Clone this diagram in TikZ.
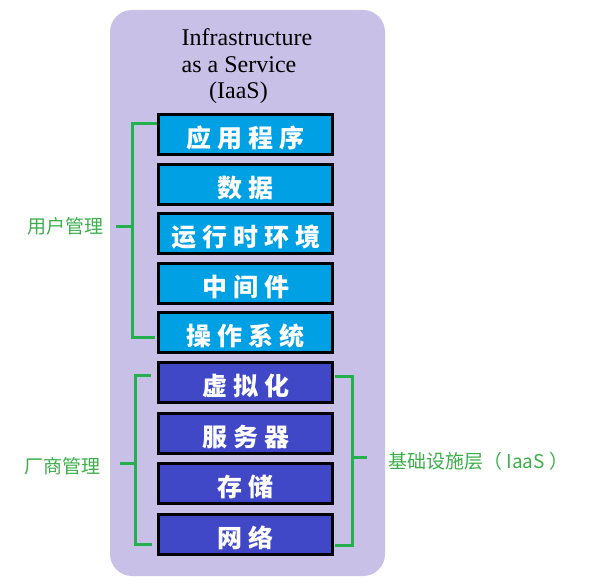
\documentclass[tikz,border=0pt]{standalone}
\usepackage{fontspec}
\setmainfont{Liberation Serif}
\newfontfamily\cjk{Noto Sans CJK SC}
\definecolor{panel}{RGB}{200,192,230}
\definecolor{upbox}{RGB}{0,160,228}
\definecolor{lowbox}{RGB}{64,72,200}
\definecolor{brkgreen}{RGB}{34,177,76}
\definecolor{lblgreen}{RGB}{60,175,75}
\newcommand\gp{\hspace{6pt}}
\tikzset{
  layer/.style={draw=black, line width=3pt, minimum width=174pt, minimum height=40pt,
    inner sep=0pt, text height=26pt, text depth=0pt, text=white,
    font=\cjk\bfseries\fontsize{25pt}{27pt}\selectfont},
  uplayer/.style={layer, fill=upbox},
  lowlayer/.style={layer, fill=lowbox},
  brk/.style={draw=brkgreen, line width=3pt},
  lbl/.style={text=lblgreen, inner sep=0pt, font=\cjk\fontsize{19pt}{21pt}\selectfont},
  ttl/.style={inner sep=0pt, anchor=base west, font=\fontsize{24pt}{27pt}\selectfont}
}
\begin{document}
\begin{tikzpicture}[x=1pt,y=-1pt]
\useasboundingbox (0,0) rectangle (589,586);
\fill[white] (0,0) rectangle (589,586);
\fill[panel, rounded corners=22pt] (110,10) rectangle (385,576);
\node[ttl] (t1) at (181.5,45.5) {Infrastructure};
\node[ttl] (t2) at (181.5,72.5) {as a Service};
\node[ttl] (t3) at (209,99) {(IaaS)};
\node[uplayer] (b1) at (245.5,134.5) {应\gp 用\gp 程\gp 序};
\node[uplayer] (b2) at (245.5,184.5) {数\gp 据};
\node[uplayer] (b3) at (245.5,233.5) {运\gp 行\gp 时\gp 环\gp 境};
\node[uplayer] (b4) at (245.5,283.5) {中\gp 间\gp 件};
\node[uplayer] (b5) at (245.5,332.5) {操\gp 作\gp 系\gp 统};
\node[lowlayer] (b6) at (245.5,382.5) {虚\gp 拟\gp 化};
\node[lowlayer] (b7) at (245.5,433.5) {服\gp 务\gp 器};
\node[lowlayer] (b8) at (245.5,483.5) {存\gp 储};
\node[lowlayer] (b9) at (245.5,534.5) {网\gp 络};
\node[lbl, anchor=east] (userm) at (104,226) {用户管理};
\node[lbl, anchor=east] (vendm) at (101,466) {厂商管理};
\node[lbl, anchor=west] (iaas) at (388,461) {基础设施层（ IaaS ）};
% upper left bracket
\coordinate (ua) at (157,123);
\coordinate (ub) at (132,123);
\coordinate (uc) at (132,337);
\coordinate (ud) at (155,337);
\coordinate (um) at (132,226);
\coordinate (ut) at (116,226);
\draw[brk] (ua) -- (ub) -- (uc) -- (ud);
\draw[brk] (um) -- (ut);
% lower left bracket
\coordinate (la) at (151,375);
\coordinate (lb) at (135,375);
\coordinate (lc) at (135,544);
\coordinate (ld) at (152,544);
\coordinate (lm) at (135,463);
\coordinate (lt) at (120,463);
\draw[brk] (la) -- (lb) -- (lc) -- (ld);
\draw[brk] (lm) -- (lt);
% right bracket
\coordinate (ra) at (335,376);
\coordinate (rb) at (352,376);
\coordinate (rc) at (352,545);
\coordinate (rd) at (335,545);
\coordinate (rm) at (352,457);
\coordinate (rt) at (367,457);
\draw[brk] (ra) -- (rb) -- (rc) -- (rd);
\draw[brk] (rm) -- (rt);
\end{tikzpicture}
\end{document}
